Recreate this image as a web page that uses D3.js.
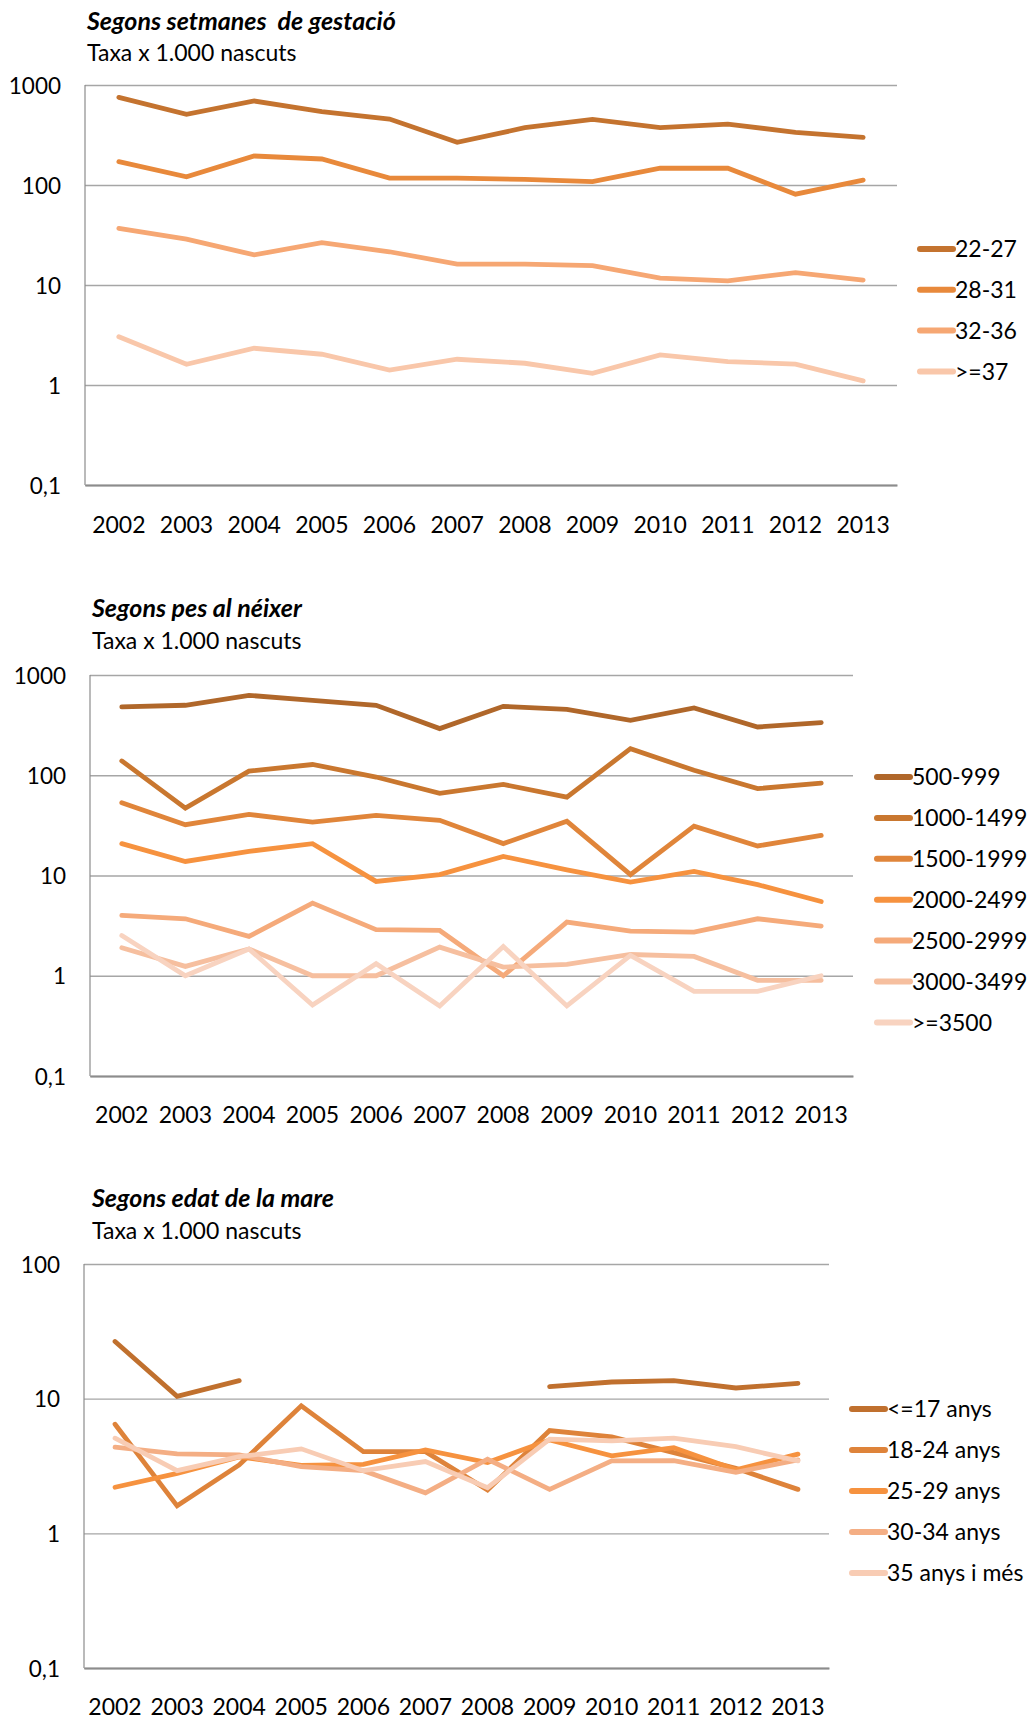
<!DOCTYPE html>
<html>
<head>
<meta charset="utf-8">
<script src="https://cdn.jsdelivr.net/npm/d3@7"></script>
<style>
  html, body { margin: 0; padding: 0; background: #fff; }
  svg { display: block; font-family: Lato, "Open Sans", sans-serif; }
  text { white-space: pre; }
</style>
</head>
<body>
<svg id="chart" width="1032" height="1719"></svg>
<script>
// ---------- DATA ----------
const years = ["2002","2003","2004","2005","2006","2007","2008","2009","2010","2011","2012","2013"];

// Chart 1: Segons setmanes de gestació
const gestSeries = ["22-27", "28-31", "32-36", ">=37"];
const gest_22_27 = [753, 509, 692, 541, 457, 267, 374, 454, 374, 407, 336, 300];
const gest_28_31 = [171, 121, 195, 182, 117, 117, 114, 108, 147, 147, 81, 112];
const gest_32_36 = [36.9, 28.8, 20, 26.5, 21.5, 16.2, 16.2, 15.6, 11.7, 11.0, 13.3, 11.2];
const gest_37 = [3.04, 1.61, 2.33, 2.03, 1.41, 1.81, 1.65, 1.31, 2.0, 1.71, 1.62, 1.10];

// Chart 2: Segons pes al néixer
const pesSeries = ["500-999", "1000-1499", "1500-1999", "2000-2499", "2500-2999", "3000-3499", ">=3500"];
const pes_500 = [480, 499, 627, 559, 499, 292, 487, 455, 353, 469, 303, 335];
const pes_1000 = [139, 47, 110, 128, 96, 66, 81, 60.5, 184, 112, 73.5, 83.6];
const pes_1500 = [53.3, 32.1, 40.7, 34.1, 39.8, 35.5, 20.8, 34.7, 10.2, 31.1, 19.7, 25.1];
const pes_2000 = [20.8, 13.8, 17.4, 20.8, 8.73, 10.2, 15.5, 11.4, 8.6, 11.0, 8.1, 5.5];
const pes_2500 = [4.0, 3.7, 2.47, 5.3, 2.88, 2.83, 1.0, 3.43, 2.79, 2.72, 3.7, 3.13];
const pes_3000 = [1.9, 1.24, 1.85, 1.0, 1.0, 1.93, 1.22, 1.3, 1.63, 1.56, 0.9, 0.9];
const pes_3500 = [2.52, 1.0, 1.85, 0.51, 1.32, 0.5, 1.96, 0.5, 1.6, 0.70, 0.70, 1.0];

// Chart 3: Segons edat de la mare
const edatSeries = ["<=17 anys", "18-24 anys", "25-29 anys", "30-34 anys", "35 anys i més"];
const edat_17 = [26.6, 10.4, 13.6, null, null, null, null, 12.3, 13.3, 13.6, 12.0, 13.0];
const edat_18_24 = [6.46, 1.6, 3.22, 8.84, 4.04, 4.04, 2.1, 5.8, 5.2, 3.97, 3.04, 2.12];
const edat_25_29 = [2.2, 2.79, 3.7, 3.2, 3.25, 4.16, 3.35, 4.94, 3.76, 4.33, 2.96, 3.87];
const edat_30_34 = [4.36, 3.89, 3.82, 3.13, 2.92, 2.0, 3.55, 2.12, 3.45, 3.47, 2.84, 3.51];
const edat_35 = [5.09, 2.92, 3.71, 4.24, 2.92, 3.41, 2.18, 5.0, 4.86, 5.09, 4.4, 3.45];

const yTicks1 = [0.1, 1, 10, 100, 1000];
const yTicks3 = [0.1, 1, 10, 100];

const titles = ["Segons setmanes  de gestació", "Segons pes al néixer", "Segons edat de la mare"];
const subtitle = "Taxa x 1.000 nascuts";

// ---------- STYLE / LAYOUT ----------
const charts = [
  {
    title: titles[0], titleX: 87, titleY: 30, subY: 61,
    x0: 85, x1: 897, yTop: 85, yBot: 485, domain: [0.1, 1000], ticks: yTicks1, tickRight: 61,
    xLabelY: 533,
    names: gestSeries, values: [gest_22_27, gest_28_31, gest_32_36, gest_37],
    colors: ["#c4732f", "#e8893b", "#f6a773", "#f9c7aa"],
    legX: 920, legY0: 249, legDy: 40.8
  },
  {
    title: titles[1], titleX: 92, titleY: 617, subY: 649,
    x0: 90, x1: 853, yTop: 675, yBot: 1076, domain: [0.1, 1000], ticks: yTicks1, tickRight: 66,
    xLabelY: 1123,
    names: pesSeries, values: [pes_500, pes_1000, pes_1500, pes_2000, pes_2500, pes_3000, pes_3500],
    colors: ["#b0672a", "#c9772f", "#e0853a", "#f6923f", "#f5aa7a", "#f6bf9f", "#f8d3c0"],
    legX: 877, legY0: 777, legDy: 40.9
  },
  {
    title: titles[2], titleX: 92, titleY: 1207, subY: 1239,
    x0: 84, x1: 829, yTop: 1264, yBot: 1668, domain: [0.1, 100], ticks: yTicks3, tickRight: 60,
    xLabelY: 1715,
    names: edatSeries, values: [edat_17, edat_18_24, edat_25_29, edat_30_34, edat_35],
    colors: ["#c0702e", "#de833a", "#f6923f", "#f4ae84", "#f8ccb4"],
    legX: 852, legY0: 1409, legDy: 41
  }
];

const svg = d3.select("#chart");
const fmt = v => String(v).replace(".", ",");

charts.forEach(c => {
  const g = svg.append("g");

  // titles
  g.append("text").attr("x", c.titleX).attr("y", c.titleY)
    .attr("font-size", 25).attr("font-weight", "bold").attr("font-style", "italic")
    .attr("fill", "#000").text(c.title);
  g.append("text").attr("x", c.titleX).attr("y", c.subY)
    .attr("font-size", 23).attr("fill", "#000").text(subtitle);

  const x = d3.scaleBand().domain(years).range([c.x0, c.x1]).padding(0);
  const y = d3.scaleLog().domain(c.domain).range([c.yBot, c.yTop]);

  // gridlines + y labels
  const yAxis = d3.axisLeft(y).tickValues(c.ticks).tickSize(-(c.x1 - c.x0)).tickFormat(fmt);
  const ga = g.append("g").attr("transform", `translate(${c.x0},0)`).call(yAxis);
  ga.select(".domain").remove();
  ga.selectAll(".tick line").attr("stroke", "#a6a6a6").attr("stroke-width", 1.3);
  ga.selectAll(".tick text")
    .attr("x", c.tickRight - c.x0).attr("dy", "0.36em")
    .attr("font-size", 22.5).attr("font-family", "Lato").attr("fill", "#000");

  // left axis line
  g.append("line").attr("x1", c.x0).attr("x2", c.x0).attr("y1", c.yTop).attr("y2", c.yBot)
    .attr("stroke", "#8c8c8c").attr("stroke-width", 1.2);

  // bottom axis
  const xAxis = d3.axisBottom(x).tickSize(0).tickPadding(0);
  const gx = g.append("g").attr("transform", `translate(0,${c.yBot})`).call(xAxis);
  gx.select(".domain").attr("stroke", "#8c8c8c").attr("stroke-width", 2.2);
  gx.selectAll(".tick text")
    .attr("y", c.xLabelY - c.yBot).attr("dy", 0)
    .attr("font-size", 23).attr("font-family", "Lato").attr("fill", "#000");

  // lines
  const line = d3.line()
    .defined(d => d.v !== null)
    .x(d => x(d.year) + x.bandwidth() / 2)
    .y(d => y(d.v));

  c.values.forEach((vals, i) => {
    const data = years.map((yr, j) => ({ year: yr, v: vals[j] }));
    g.append("path").datum(data)
      .attr("d", line)
      .attr("fill", "none")
      .attr("stroke", c.colors[i])
      .attr("stroke-width", 4.8)
      .attr("stroke-linejoin", "miter")
      .attr("stroke-linecap", "round");
  });

  // legend
  c.names.forEach((name, i) => {
    const ly = c.legY0 + i * c.legDy;
    g.append("line").attr("x1", c.legX).attr("x2", c.legX + 33)
      .attr("y1", ly).attr("y2", ly)
      .attr("stroke", c.colors[i]).attr("stroke-width", 6).attr("stroke-linecap", "round");
    g.append("text").attr("x", c.legX + 35).attr("y", ly).attr("dy", "0.36em")
      .attr("font-size", 23).attr("fill", "#000").text(name);
  });
});
</script>
</body>
</html>
